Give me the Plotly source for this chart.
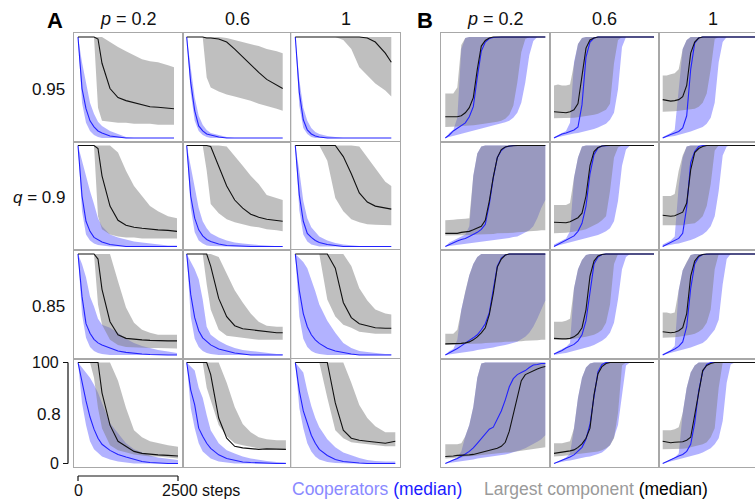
import plotly.graph_objects as go

FONT = "Liberation Sans, Arial, Helvetica, sans-serif"
W, H = 755, 500

# ---------------- data ----------------
XA = [0, 100, 200, 300, 400, 500, 600, 800, 1000, 1200, 1400, 1600, 1800, 2000, 2250, 2500]
XB = [0, 100, 200, 300, 400, 500, 600, 700, 800, 900, 1000, 1100, 1200,
      1300, 1400, 1500, 1600, 1700, 1800, 1900, 2000, 2100, 2200, 2300, 2400, 2500]

Q_LABELS = ["0.95", "<i>q</i> = 0.9", "0.85", "0.8"]
P_LABELS = ["<i>p</i> = 0.2", "0.6", "1"]

# Panel A (BL/BU = cooperator band, BM = cooperator median, GL/GU = largest component band, GM = its median)
A_Q95_P02_BL = [100, 35, 15, 7, 3, 1, 0, 0, 0, 0, 0, 0, 0, 0, 0, 0]
A_Q95_P02_BM = [100, 49, 29, 17, 11, 7, 5, 2, 1, 0, 0, 0, 0, 0, 0, 0]
A_Q95_P02_BU = [100, 75, 55, 35, 24, 16, 12, 7, 4, 1, 0, 0, 0, 0, 0, 0]
A_Q95_P02_GL = [100, 100, 100, 100, 100, 30, 17, 16, 15, 15, 14, 14, 14, 13, 13, 13]
A_Q95_P02_GM = [100, 100, 100, 100, 100, 98, 74, 49, 40, 37, 35, 33, 31, 30.5, 30, 29]
A_Q95_P02_GU = [100, 100, 100, 100, 100, 100, 100, 95, 90, 86, 82, 78, 76, 75, 72, 70]

A_Q95_P06_BL = [100, 45, 17, 7, 3, 1, 0, 0, 0, 0, 0, 0, 0, 0, 0, 0]
A_Q95_P06_BM = [100, 55, 27, 12, 7, 4, 3, 1, 0, 0, 0, 0, 0, 0, 0, 0]
A_Q95_P06_BU = [100, 70, 40, 22, 13, 8, 5, 3, 1, 0, 0, 0, 0, 0, 0, 0]
A_Q95_P06_GL = [100, 100, 100, 100, 100, 60, 50, 46, 43, 41, 39, 37, 34, 32, 29, 27]
A_Q95_P06_GM = [100, 100, 100, 100, 100, 99, 99, 98, 95, 88, 80, 73, 65, 58, 52, 49]
A_Q95_P06_GU = [100, 100, 100, 100, 100, 100, 100, 100, 99, 97, 95, 93, 91, 88, 86, 84]

A_Q95_P1_BL = [100, 32, 10, 4, 1, 0, 0, 0, 0, 0, 0, 0, 0, 0, 0, 0]
A_Q95_P1_BM = [100, 45, 18, 8, 4, 2, 1, 0, 0, 0, 0, 0, 0, 0, 0, 0]
A_Q95_P1_BU = [100, 58, 30, 17, 10, 6, 4, 2, 1, 0, 0, 0, 0, 0, 0, 0]
A_Q95_P1_GL = [100, 100, 100, 100, 100, 100, 100, 100, 100, 97, 88, 70, 62, 54, 47, 41]
A_Q95_P1_GM = [100, 100, 100, 100, 100, 100, 100, 100, 100, 100, 100, 100, 99, 95, 84, 75]
A_Q95_P1_GU = [100, 100, 100, 100, 100, 100, 100, 100, 100, 100, 100, 100, 100, 100, 100, 100]

A_Q9_P02_BL = [100, 35, 12, 6, 3, 1.5, 1, 0, 0, 0, 0, 0, 0, 0, 0, 0]
A_Q9_P02_BM = [100, 50, 25, 15, 9, 6.5, 4.5, 2, 1, 0, 0, 0, 0, 0, 0, 0]
A_Q9_P02_BU = [100, 85, 68, 55, 42, 28, 20, 12, 9, 7, 5, 4, 3, 2, 1, 1]
A_Q9_P02_GL = [100, 100, 100, 100, 100, 30, 17, 12, 10, 9, 9, 8, 8, 8, 8, 8]
A_Q9_P02_GM = [100, 100, 100, 100, 100, 97, 70, 40, 26, 21, 19, 18, 17, 16.5, 16, 15]
A_Q9_P02_GU = [100, 100, 100, 100, 100, 100, 100, 100, 93, 75, 60, 50, 40, 35, 30, 28]

A_Q9_P06_BL = [100, 38, 14, 6, 3, 1, 0.5, 0, 0, 0, 0, 0, 0, 0, 0, 0]
A_Q9_P06_BM = [100, 50, 28, 16.5, 10.5, 7, 5, 2.5, 1, 0.5, 0, 0, 0, 0, 0, 0]
A_Q9_P06_BU = [100, 80, 60, 38, 25, 18, 13, 9, 6, 4, 3, 2, 1.5, 1, 0.5, 0]
A_Q9_P06_GL = [100, 100, 100, 100, 100, 75, 42, 33, 27, 24, 22, 20, 19, 17, 16, 15]
A_Q9_P06_GM = [100, 100, 100, 100, 100, 100, 99, 80, 60, 46, 38, 32, 29, 27, 26, 25]
A_Q9_P06_GU = [100, 100, 100, 100, 100, 100, 100, 100, 99, 90, 80, 70, 62, 51, 48, 46]

A_Q9_P1_BL = [100, 36, 12, 5, 2, 1, 0, 0, 0, 0, 0, 0, 0, 0, 0, 0]
A_Q9_P1_BM = [100, 51, 25, 13, 9, 6, 4, 2, 1, 0, 0, 0, 0, 0, 0, 0]
A_Q9_P1_BU = [100, 75, 45, 28, 19, 14, 10, 6, 3.5, 2, 1, 0.5, 0, 0, 0, 0]
A_Q9_P1_GL = [100, 100, 100, 100, 100, 100, 100, 85, 48, 35, 27, 24, 22, 21.5, 21, 21]
A_Q9_P1_GM = [100, 100, 100, 100, 100, 100, 100, 100, 100, 89, 72, 53, 44, 40, 38, 37]
A_Q9_P1_GU = [100, 100, 100, 100, 100, 100, 100, 100, 100, 100, 100, 99, 88, 77, 64, 60]

A_Q85_P02_BL = [100, 40, 17, 8, 4, 2, 1, 0, 0, 0, 0, 0, 0, 0, 0, 0]
A_Q85_P02_BM = [100, 58, 31, 21.5, 15.5, 12, 10, 6.6, 4, 2.6, 1.6, 1, 0.5, 0, 0, 0]
A_Q85_P02_BU = [100, 90, 77, 58, 48, 36, 30, 27, 22, 16, 12, 9, 7, 5, 3.5, 2]
A_Q85_P02_GL = [100, 100, 100, 100, 100, 50, 30, 15, 10, 8, 7.5, 7, 7, 7, 6.5, 6.5]
A_Q85_P02_GM = [100, 100, 100, 100, 100, 95, 65, 33, 20, 16.5, 15.5, 15, 14.5, 14, 14, 14]
A_Q85_P02_GU = [100, 100, 100, 100, 100, 100, 100, 100, 73, 47, 32, 25, 22, 20, 20, 20]

A_Q85_P06_BL = [100, 38, 16, 8, 4, 2, 1, 0, 0, 0, 0, 0, 0, 0, 0, 0]
A_Q85_P06_BM = [100, 60, 37, 24, 17, 13, 10, 6, 4, 2, 1, 0, 0, 0, 0, 0]
A_Q85_P06_BU = [100, 92, 85, 75, 55, 28, 20, 14, 10, 7, 5, 4, 3, 2, 1, 1]
A_Q85_P06_GL = [100, 100, 100, 100, 100, 70, 45, 25, 19, 18, 17, 16, 15, 15, 15, 15]
A_Q85_P06_GM = [100, 100, 100, 100, 100, 100, 88, 56, 38, 29, 26, 25, 24, 23, 22, 22]
A_Q85_P06_GU = [100, 100, 100, 100, 100, 100, 100, 97, 80, 64, 52, 41, 33, 29, 28, 28]

A_Q85_P1_BL = [100, 38, 16, 8, 4, 2, 1, 0, 0, 0, 0, 0, 0, 0, 0, 0]
A_Q85_P1_BM = [100, 64, 41, 28, 20, 15, 11.5, 6.6, 4, 2.3, 1, 0, 0, 0, 0, 0]
A_Q85_P1_BU = [100, 96, 92, 86, 75, 63, 50, 34, 22, 12, 7, 4, 3, 2, 1, 1]
A_Q85_P1_GL = [100, 100, 100, 100, 100, 100, 100, 55, 38, 30, 27, 23, 22, 21, 21, 21]
A_Q85_P1_GM = [100, 100, 100, 100, 100, 100, 100, 100, 86, 52, 37, 31, 29, 27, 26.5, 26.5]
A_Q85_P1_GU = [100, 100, 100, 100, 100, 100, 100, 100, 100, 100, 88, 66, 54, 45, 41, 40]

A_Q8_P02_BL = [100, 60, 38, 22, 14, 10, 7, 4, 2, 1, 0, 0, 0, 0, 0, 0]
A_Q8_P02_BM = [100, 80, 62, 46, 34, 25, 19, 13, 9, 6.5, 4, 2, 1, 0.5, 0, 0]
A_Q8_P02_BU = [100, 95, 90, 85, 78, 70, 60, 40, 30, 20, 14, 11, 8, 6, 5, 3.5]
A_Q8_P02_GL = [100, 100, 100, 100, 85, 55, 35, 18, 13, 11, 9, 8, 7, 7, 6, 5]
A_Q8_P02_GM = [100, 100, 100, 100, 100, 100, 70, 38, 22, 17, 12, 10, 9, 8.5, 8, 7.5]
A_Q8_P02_GU = [100, 100, 100, 100, 100, 100, 100, 100, 82, 55, 33, 26, 22, 20, 18, 16.7]

A_Q8_P06_BL = [100, 55, 35, 20, 12, 8, 5, 2, 1, 0, 0, 0, 0, 0, 0, 0]
A_Q8_P06_BM = [100, 73, 58, 35, 27, 20, 15, 8.6, 5, 3, 1.5, 1, 0.5, 0, 0, 0]
A_Q8_P06_BU = [100, 96, 92, 75, 65, 48, 33, 20, 13, 10, 7, 5, 3.5, 2.5, 1.5, 1]
A_Q8_P06_GL = [100, 100, 100, 100, 100, 75, 63, 38, 27, 20, 18, 16.5, 15, 14.5, 14, 13.5]
A_Q8_P06_GM = [100, 100, 100, 100, 100, 100, 88, 45, 25, 17, 15.5, 15, 14, 14.5, 14.5, 14]
A_Q8_P06_GU = [100, 100, 100, 100, 100, 100, 100, 100, 80, 56, 39, 31, 26, 24, 23, 23]

A_Q8_P1_BL = [100, 55, 35, 20, 12, 7, 4, 1.5, 0.5, 0, 0, 0, 0, 0, 0, 0]
A_Q8_P1_BM = [100, 72, 52, 40, 28, 20, 14, 8, 4, 2, 1, 0.5, 0, 0, 0, 0]
A_Q8_P1_BU = [100, 95, 90, 72, 57, 45, 36, 24, 16, 11, 8, 5.5, 3.5, 2.5, 2, 2]
A_Q8_P1_GL = [100, 100, 100, 100, 100, 100, 100, 65, 33, 25, 21, 20, 19, 18, 17, 17]
A_Q8_P1_GM = [100, 100, 100, 100, 100, 100, 100, 100, 60, 33, 25, 23, 22, 21, 20, 22]
A_Q8_P1_GU = [100, 100, 100, 100, 100, 100, 100, 100, 100, 100, 80, 58, 45, 37, 31, 31]

# last time step reached in each A panel (rows q, cols p)
A_END_Q95 = [2400, 2400, 2400]
A_END_Q9 = [2475, 2400, 2400]
A_END_Q85 = [2475, 2400, 2400]
A_END_Q8 = [2500, 2480, 2500]

# Panel B
B_Q95_P02_BL = [0, 1, 2, 3, 4, 5, 6, 7, 8, 9, 10, 11, 12, 13, 14, 15.5, 17, 20, 25, 35, 55, 82, 96, 100, 100, 100]
B_Q95_P02_BM = [0, 3, 7, 9.5, 12, 15, 21, 31, 60, 86, 95, 98.5, 99.5, 100, 100, 100, 100, 100, 100, 100, 100, 100, 100, 100, 100, 100]
B_Q95_P02_BU = [0, 5, 8, 20, 88, 99, 100, 100, 100, 100, 100, 100, 100, 100, 100, 100, 100, 100, 100, 100, 100, 100, 100, 100, 100, 100]
B_Q95_P02_GL = [11, 11, 11.5, 11.5, 12, 12, 12.5, 12.5, 13, 13.5, 14, 14.5, 15, 16, 17, 19, 23, 32, 55, 85, 98, 100, 100, 100, 100, 100]
B_Q95_P02_GM = [21, 21, 20.5, 21, 22, 25, 30, 40, 68, 91, 96.5, 99, 100, 100, 100, 100, 100, 100, 100, 100, 100, 100, 100, 100, 100, 100]
B_Q95_P02_GU = [44, 44, 44, 50, 92, 99, 100, 100, 100, 100, 100, 100, 100, 100, 100, 100, 100, 100, 100, 100, 100, 100, 100, 100, 100, 100]

B_Q95_P06_BL = [0, 1, 2, 3, 4, 4.5, 5, 6, 6.5, 8, 9, 10.5, 12, 14, 18, 25, 48, 90, 100, 100, 100, 100, 100, 100, 100, 100]
B_Q95_P06_BM = [0, 2, 4, 5, 6.5, 8, 11, 33, 80, 95, 99, 100, 100, 100, 100, 100, 100, 100, 100, 100, 100, 100, 100, 100, 100, 100]
B_Q95_P06_BU = [1, 3, 5, 7, 15, 75, 93, 99, 100, 100, 100, 100, 100, 100, 100, 100, 100, 100, 100, 100, 100, 100, 100, 100, 100, 100]
B_Q95_P06_GL = [19.5, 19.5, 19.5, 19.5, 19.5, 20, 20.5, 21, 21.5, 22, 23, 24, 26, 28, 34, 74, 97, 100, 100, 100, 100, 100, 100, 100, 100, 100]
B_Q95_P06_GM = [26, 25.5, 25, 25, 26, 28, 34, 63, 89, 97, 99, 100, 100, 100, 100, 100, 100, 100, 100, 100, 100, 100, 100, 100, 100, 100]
B_Q95_P06_GU = [52, 53, 52, 52, 53, 75, 93, 99, 100, 100, 100, 100, 100, 100, 100, 100, 100, 100, 100, 100, 100, 100, 100, 100, 100, 100]

B_Q95_P1_BL = [0, 1, 1.5, 2, 3, 4, 5, 6.5, 8, 9.5, 11, 14, 20, 35, 75, 95, 100, 100, 100, 100, 100, 100, 100, 100, 100, 100]
B_Q95_P1_BM = [0, 2, 3.5, 5, 6.5, 10, 22, 68, 94, 99, 100, 100, 100, 100, 100, 100, 100, 100, 100, 100, 100, 100, 100, 100, 100, 100]
B_Q95_P1_BU = [1, 3, 5, 8, 50, 88, 97, 100, 100, 100, 100, 100, 100, 100, 100, 100, 100, 100, 100, 100, 100, 100, 100, 100, 100, 100]
B_Q95_P1_GL = [26, 26, 26, 26.5, 27, 27.5, 28, 28.5, 29, 31, 35, 44, 68, 98, 100, 100, 100, 100, 100, 100, 100, 100, 100, 100, 100, 100]
B_Q95_P1_GM = [38, 37, 36.5, 37, 38, 41, 52, 84, 95, 99, 100, 100, 100, 100, 100, 100, 100, 100, 100, 100, 100, 100, 100, 100, 100, 100]
B_Q95_P1_GU = [62, 62, 63, 64, 68, 88, 97, 100, 100, 100, 100, 100, 100, 100, 100, 100, 100, 100, 100, 100, 100, 100, 100, 100, 100, 100]

B_Q9_P02_BL = [0, 0.5, 1, 1.5, 2, 3, 3.5, 4, 4.5, 5, 5, 5.5, 6, 6.5, 7, 8, 8.5, 9.5, 10, 12, 14, 16, 20, 28, 38, 46]
B_Q9_P02_BM = [0, 2, 4, 5.5, 7, 8, 10, 12, 14, 17, 22, 42, 68, 88, 95, 98.5, 99.5, 100, 100, 100, 100, 100, 100, 100, 100, 100]
B_Q9_P02_BU = [0, 4, 6, 8, 10, 12, 20, 70, 92, 99, 100, 100, 100, 100, 100, 100, 100, 100, 100, 100, 100, 100, 100, 100, 100, 100]
B_Q9_P02_GL = [11, 11, 11, 11, 11, 11, 11.5, 11.5, 12, 12, 12, 12.5, 12.5, 13, 13, 13, 13.5, 13.5, 14, 14, 14.5, 15, 15, 15.5, 16, 16]
B_Q9_P02_GM = [13, 13, 13, 13, 14, 14.5, 15, 16.5, 18, 20, 26, 45, 69, 88, 96, 98.5, 99.5, 100, 100, 100, 100, 100, 100, 100, 100, 100]
B_Q9_P02_GU = [26, 26, 26.5, 27, 27, 27.5, 28, 70, 92, 99, 100, 100, 100, 100, 100, 100, 100, 100, 100, 100, 100, 100, 100, 100, 100, 100]

B_Q9_P06_BL = [0, 1, 2, 3, 4, 5, 6, 7, 8, 9, 10, 11.5, 13, 15, 18, 25, 45, 80, 96, 100, 100, 100, 100, 100, 100, 100]
B_Q9_P06_BM = [0, 2, 4, 6.5, 8.5, 10.5, 15, 23, 40, 72, 91, 97.5, 99.5, 100, 100, 100, 100, 100, 100, 100, 100, 100, 100, 100, 100, 100]
B_Q9_P06_BU = [2, 4, 6, 8, 15, 68, 88, 99, 100, 100, 100, 100, 100, 100, 100, 100, 100, 100, 100, 100, 100, 100, 100, 100, 100, 100]
B_Q9_P06_GL = [13, 13, 13, 13.5, 14, 14.5, 15, 16, 17, 19, 21, 23, 26, 30, 55, 88, 98, 100, 100, 100, 100, 100, 100, 100, 100, 100]
B_Q9_P06_GM = [24, 24, 23.5, 23.5, 24.5, 26.5, 28.5, 33, 50, 80, 94, 98, 99.5, 100, 100, 100, 100, 100, 100, 100, 100, 100, 100, 100, 100, 100]
B_Q9_P06_GU = [41, 41, 41, 41, 43, 68, 88, 99, 100, 100, 100, 100, 100, 100, 100, 100, 100, 100, 100, 100, 100, 100, 100, 100, 100, 100]

B_Q9_P1_BL = [0, 1, 2, 2.5, 3, 4, 5, 6.5, 8, 10, 12, 15, 20, 30, 55, 90, 99, 100, 100, 100, 100, 100, 100, 100, 100, 100]
B_Q9_P1_BM = [0, 2, 3.5, 5.5, 8, 13, 39, 83, 94, 99, 100, 100, 100, 100, 100, 100, 100, 100, 100, 100, 100, 100, 100, 100, 100, 100]
B_Q9_P1_BU = [2, 4, 6, 10, 60, 88, 99, 100, 100, 100, 100, 100, 100, 100, 100, 100, 100, 100, 100, 100, 100, 100, 100, 100, 100, 100]
B_Q9_P1_GL = [21, 21, 21, 21, 21, 21, 22, 22.5, 23, 26, 30, 40, 62, 95, 100, 100, 100, 100, 100, 100, 100, 100, 100, 100, 100, 100]
B_Q9_P1_GM = [31, 30.5, 30, 30.5, 32, 34, 43, 76, 93, 97, 99, 100, 100, 100, 100, 100, 100, 100, 100, 100, 100, 100, 100, 100, 100, 100]
B_Q9_P1_GU = [50, 50, 50, 52, 75, 90, 99, 100, 100, 100, 100, 100, 100, 100, 100, 100, 100, 100, 100, 100, 100, 100, 100, 100, 100, 100]

B_Q85_P02_BL = [0, 0.5, 1, 2, 2.5, 3, 3.5, 4, 5, 5.5, 6, 7, 7.5, 8.5, 9, 10, 11, 12, 13, 15.5, 18, 22, 28, 36, 45, 54]
B_Q85_P02_BM = [0, 2, 4, 6.5, 9, 12, 14.5, 17, 20, 25, 31, 42, 63, 88, 96, 99, 100, 100, 100, 100, 100, 100, 100, 100, 100, 100]
B_Q85_P02_BU = [0, 4, 6, 15, 45, 63, 79, 90, 97, 100, 100, 100, 100, 100, 100, 100, 100, 100, 100, 100, 100, 100, 100, 100, 100, 100]
B_Q85_P02_GL = [10, 10, 10.5, 10.5, 10.5, 11, 11, 11, 11.5, 11.5, 12, 12, 12, 12.5, 12.5, 13, 13, 13, 13.5, 13.5, 14, 14, 14.5, 14.5, 15, 15]
B_Q85_P02_GM = [11, 11, 11, 11, 11.5, 12, 13, 15, 18, 22, 27, 40, 61, 87, 95, 99, 100, 100, 100, 100, 100, 100, 100, 100, 100, 100]
B_Q85_P02_GU = [21, 21, 21, 25, 45, 63, 79, 90, 97, 100, 100, 100, 100, 100, 100, 100, 100, 100, 100, 100, 100, 100, 100, 100, 100, 100]

B_Q85_P06_BL = [0, 1, 1.5, 2, 3, 4, 5, 6, 7, 8.5, 10, 12, 14, 17, 22, 32, 55, 85, 97, 100, 100, 100, 100, 100, 100, 100]
B_Q85_P06_BM = [1, 2.5, 4.5, 7, 9, 10.5, 14, 20, 34, 60, 90, 97, 99.5, 100, 100, 100, 100, 100, 100, 100, 100, 100, 100, 100, 100, 100]
B_Q85_P06_BU = [1, 4, 6, 8, 12, 66, 85, 94, 99, 100, 100, 100, 100, 100, 100, 100, 100, 100, 100, 100, 100, 100, 100, 100, 100, 100]
B_Q85_P06_GL = [15, 15, 15, 15.5, 15.5, 16, 16.5, 17, 18, 19, 20, 22, 25, 32, 50, 90, 100, 100, 100, 100, 100, 100, 100, 100, 100, 100]
B_Q85_P06_GM = [16.5, 16, 16, 16, 16.5, 18, 21, 27, 45, 78, 93, 98, 99.5, 100, 100, 100, 100, 100, 100, 100, 100, 100, 100, 100, 100, 100]
B_Q85_P06_GU = [33, 33, 33, 34, 36, 66, 85, 94, 99, 100, 100, 100, 100, 100, 100, 100, 100, 100, 100, 100, 100, 100, 100, 100, 100, 100]

B_Q85_P1_BL = [0, 1, 2, 3, 4, 5, 6, 7.5, 9, 10.5, 12, 15, 20, 25, 35, 70, 95, 100, 100, 100, 100, 100, 100, 100, 100, 100]
B_Q85_P1_BM = [0, 2, 3.5, 6, 8.5, 13, 28, 66, 90, 97, 99.5, 100, 100, 100, 100, 100, 100, 100, 100, 100, 100, 100, 100, 100, 100, 100]
B_Q85_P1_BU = [1, 3, 5, 9, 64, 84, 92, 99, 100, 100, 100, 100, 100, 100, 100, 100, 100, 100, 100, 100, 100, 100, 100, 100, 100, 100]
B_Q85_P1_GL = [17, 17, 17, 17.5, 18, 18.5, 19, 20, 21, 23, 26, 32, 45, 85, 100, 100, 100, 100, 100, 100, 100, 100, 100, 100, 100, 100]
B_Q85_P1_GM = [23, 22.5, 22, 22.5, 24, 27, 41, 78, 93, 98, 99.5, 100, 100, 100, 100, 100, 100, 100, 100, 100, 100, 100, 100, 100, 100, 100]
B_Q85_P1_GU = [42, 42, 41, 42, 64, 84, 92, 99, 100, 100, 100, 100, 100, 100, 100, 100, 100, 100, 100, 100, 100, 100, 100, 100, 100, 100]

B_Q8_P02_BL = [0, 0.5, 1, 2, 2.5, 3, 3.5, 4, 5, 5.5, 6, 6.5, 7, 8, 8.5, 9, 10, 11, 12, 13.5, 15, 17, 19, 21.5, 24, 28]
B_Q8_P02_BM = [0, 2, 3.5, 5, 7, 9.5, 12, 15.5, 20, 25, 30, 34, 36, 44, 52, 63, 76, 84, 88, 90, 92, 95, 97.5, 98, 99, 99]
B_Q8_P02_BU = [0, 2, 4, 6, 12, 27, 38, 56, 85, 99, 100, 100, 100, 100, 100, 100, 100, 100, 100, 100, 100, 100, 100, 100, 100, 100]
B_Q8_P02_GL = [5, 5, 5.5, 6, 6, 7, 7, 7.5, 8, 8.5, 9, 9, 9.5, 10, 10.5, 11, 11, 11.5, 12, 12.5, 13, 13.5, 14, 14.5, 15, 16]
B_Q8_P02_GM = [7, 7, 7.5, 8, 8, 8.5, 8.5, 9, 10, 11, 11.5, 12.5, 13.5, 15, 17, 21, 32, 48, 65, 82, 88, 90, 92, 93.5, 95, 96]
B_Q8_P02_GU = [19, 19, 19, 19, 20, 27, 38, 56, 85, 99, 100, 100, 100, 100, 100, 100, 100, 100, 100, 100, 100, 100, 100, 100, 100, 100]

B_Q8_P06_BL = [0, 1, 1.5, 2.5, 3, 4, 5, 5.5, 6.5, 7, 8, 9.5, 11, 14, 18, 26, 38, 70, 97, 100, 100, 100, 100, 100, 100, 100]
B_Q8_P06_BM = [0, 1.5, 3, 4.5, 6.5, 8.5, 12, 16, 24, 39, 66, 91, 98, 100, 100, 100, 100, 100, 100, 100, 100, 100, 100, 100, 100, 100]
B_Q8_P06_BU = [0, 2, 3.5, 6, 10, 35, 65, 85, 95, 99, 100, 100, 100, 100, 100, 100, 100, 100, 100, 100, 100, 100, 100, 100, 100, 100]
B_Q8_P06_GL = [7, 7, 7.5, 8, 8.5, 9, 9.5, 10, 10.5, 11, 11, 12, 13, 15, 18, 25, 50, 97, 100, 100, 100, 100, 100, 100, 100, 100]
B_Q8_P06_GM = [10, 10.5, 11, 11.5, 12.5, 13.5, 16, 19.5, 25, 35, 68, 89, 96, 99, 100, 100, 100, 100, 100, 100, 100, 100, 100, 100, 100, 100]
B_Q8_P06_GU = [20, 20, 20, 21, 22, 35, 65, 85, 95, 99, 100, 100, 100, 100, 100, 100, 100, 100, 100, 100, 100, 100, 100, 100, 100, 100]

B_Q8_P1_BL = [0, 1, 2, 3, 4, 5, 6, 7, 8, 9.5, 11, 13, 15, 19, 25, 42, 80, 98, 100, 100, 100, 100, 100, 100, 100, 100]
B_Q8_P1_BM = [0, 2, 3.5, 5.5, 7.5, 9, 12, 19, 40, 72, 91, 98, 100, 100, 100, 100, 100, 100, 100, 100, 100, 100, 100, 100, 100, 100]
B_Q8_P1_BU = [0, 2, 4, 6, 10, 50, 75, 90, 97, 100, 100, 100, 100, 100, 100, 100, 100, 100, 100, 100, 100, 100, 100, 100, 100, 100]
B_Q8_P1_GL = [14, 14, 14, 14, 14.5, 14.5, 15, 16, 17, 18, 19, 21, 26, 35, 75, 100, 100, 100, 100, 100, 100, 100, 100, 100, 100, 100]
B_Q8_P1_GM = [22, 21, 20.5, 21, 21, 21.5, 23, 26, 48, 72, 92, 97, 99, 100, 100, 100, 100, 100, 100, 100, 100, 100, 100, 100, 100, 100]
B_Q8_P1_GU = [33, 33, 33, 34, 36, 50, 75, 90, 97, 100, 100, 100, 100, 100, 100, 100, 100, 100, 100, 100, 100, 100, 100, 100, 100, 100]

# ---------------- tables built from the arrays ----------------
PANELS_A = [
    [(A_Q95_P02_BL, A_Q95_P02_BM, A_Q95_P02_BU, A_Q95_P02_GL, A_Q95_P02_GM, A_Q95_P02_GU),
     (A_Q95_P06_BL, A_Q95_P06_BM, A_Q95_P06_BU, A_Q95_P06_GL, A_Q95_P06_GM, A_Q95_P06_GU),
     (A_Q95_P1_BL, A_Q95_P1_BM, A_Q95_P1_BU, A_Q95_P1_GL, A_Q95_P1_GM, A_Q95_P1_GU)],
    [(A_Q9_P02_BL, A_Q9_P02_BM, A_Q9_P02_BU, A_Q9_P02_GL, A_Q9_P02_GM, A_Q9_P02_GU),
     (A_Q9_P06_BL, A_Q9_P06_BM, A_Q9_P06_BU, A_Q9_P06_GL, A_Q9_P06_GM, A_Q9_P06_GU),
     (A_Q9_P1_BL, A_Q9_P1_BM, A_Q9_P1_BU, A_Q9_P1_GL, A_Q9_P1_GM, A_Q9_P1_GU)],
    [(A_Q85_P02_BL, A_Q85_P02_BM, A_Q85_P02_BU, A_Q85_P02_GL, A_Q85_P02_GM, A_Q85_P02_GU),
     (A_Q85_P06_BL, A_Q85_P06_BM, A_Q85_P06_BU, A_Q85_P06_GL, A_Q85_P06_GM, A_Q85_P06_GU),
     (A_Q85_P1_BL, A_Q85_P1_BM, A_Q85_P1_BU, A_Q85_P1_GL, A_Q85_P1_GM, A_Q85_P1_GU)],
    [(A_Q8_P02_BL, A_Q8_P02_BM, A_Q8_P02_BU, A_Q8_P02_GL, A_Q8_P02_GM, A_Q8_P02_GU),
     (A_Q8_P06_BL, A_Q8_P06_BM, A_Q8_P06_BU, A_Q8_P06_GL, A_Q8_P06_GM, A_Q8_P06_GU),
     (A_Q8_P1_BL, A_Q8_P1_BM, A_Q8_P1_BU, A_Q8_P1_GL, A_Q8_P1_GM, A_Q8_P1_GU)],
]
A_END = [A_END_Q95, A_END_Q9, A_END_Q85, A_END_Q8]
PANELS_B = [
    [(B_Q95_P02_BL, B_Q95_P02_BM, B_Q95_P02_BU, B_Q95_P02_GL, B_Q95_P02_GM, B_Q95_P02_GU),
     (B_Q95_P06_BL, B_Q95_P06_BM, B_Q95_P06_BU, B_Q95_P06_GL, B_Q95_P06_GM, B_Q95_P06_GU),
     (B_Q95_P1_BL, B_Q95_P1_BM, B_Q95_P1_BU, B_Q95_P1_GL, B_Q95_P1_GM, B_Q95_P1_GU)],
    [(B_Q9_P02_BL, B_Q9_P02_BM, B_Q9_P02_BU, B_Q9_P02_GL, B_Q9_P02_GM, B_Q9_P02_GU),
     (B_Q9_P06_BL, B_Q9_P06_BM, B_Q9_P06_BU, B_Q9_P06_GL, B_Q9_P06_GM, B_Q9_P06_GU),
     (B_Q9_P1_BL, B_Q9_P1_BM, B_Q9_P1_BU, B_Q9_P1_GL, B_Q9_P1_GM, B_Q9_P1_GU)],
    [(B_Q85_P02_BL, B_Q85_P02_BM, B_Q85_P02_BU, B_Q85_P02_GL, B_Q85_P02_GM, B_Q85_P02_GU),
     (B_Q85_P06_BL, B_Q85_P06_BM, B_Q85_P06_BU, B_Q85_P06_GL, B_Q85_P06_GM, B_Q85_P06_GU),
     (B_Q85_P1_BL, B_Q85_P1_BM, B_Q85_P1_BU, B_Q85_P1_GL, B_Q85_P1_GM, B_Q85_P1_GU)],
    [(B_Q8_P02_BL, B_Q8_P02_BM, B_Q8_P02_BU, B_Q8_P02_GL, B_Q8_P02_GM, B_Q8_P02_GU),
     (B_Q8_P06_BL, B_Q8_P06_BM, B_Q8_P06_BU, B_Q8_P06_GL, B_Q8_P06_GM, B_Q8_P06_GU),
     (B_Q8_P1_BL, B_Q8_P1_BM, B_Q8_P1_BU, B_Q8_P1_GL, B_Q8_P1_GM, B_Q8_P1_GU)],
]

# ---------------- geometry & style ----------------
COL_LEFT_A = [74.0, 182.7, 291.3]
COL_LEFT_B = [441.3, 550.0, 658.7]
ROW_TOP = [33.0, 141.5, 250.0, 358.5]
CELL_W, CELL_H = 108.7, 108.5
PX_PER_STEP = CELL_W / 2717.5
Y_RANGE = [-3.5 / 1.01, 100 + 4 / 1.01]

BLUE_FILL = "rgba(0,0,255,0.30)"
GRAY_FILL = "rgba(128,128,128,0.50)"
BLUE_LINE = "#2222ff"
BLACK_LINE = "#111111"
BORDER = "#a8a8a8"

fig = go.Figure()
layout_axes = {}


def ax_names(idx):
    s = "" if idx == 1 else str(idx)
    return "x" + s, "y" + s, "xaxis" + s, "yaxis" + s


def add_cell(idx, left, top, xs, series, clip_right=False):
    bl, bm, bu, gl, gm, gu = series
    xr, yr, xk, yk = ax_names(idx)
    right = min(left + CELL_W, W)
    common = dict(xaxis=xr, yaxis=yr, mode="lines", hoverinfo="skip", showlegend=False)
    fig.add_trace(go.Scatter(x=xs, y=bl, line=dict(width=0), **common))
    fig.add_trace(go.Scatter(x=xs, y=bu, line=dict(width=0), fill="tonexty", fillcolor=BLUE_FILL, **common))
    fig.add_trace(go.Scatter(x=xs, y=gl, line=dict(width=0), **common))
    fig.add_trace(go.Scatter(x=xs, y=gu, line=dict(width=0), fill="tonexty", fillcolor=GRAY_FILL, **common))
    fig.add_trace(go.Scatter(x=xs, y=bm, line=dict(width=1.1, color=BLUE_LINE), **common))
    fig.add_trace(go.Scatter(x=xs, y=gm, line=dict(width=1.1, color=BLACK_LINE), **common))
    layout_axes[xk] = dict(domain=[left / W, right / W], range=[-100, -100 + (right - left) / PX_PER_STEP],
                           anchor=yr, showline=True, mirror=True, linecolor=BORDER, linewidth=1,
                           showgrid=False, zeroline=False, showticklabels=False, ticks="", fixedrange=True)
    layout_axes[yk] = dict(domain=[1 - (top + CELL_H) / H, 1 - top / H], range=Y_RANGE,
                           anchor=xr, showline=True, mirror=not clip_right, linecolor=BORDER, linewidth=1,
                           showgrid=False, zeroline=False, showticklabels=False, ticks="", fixedrange=True)


for r in range(4):
    for c in range(3):
        idx = 1 + r * 6 + c
        xs = XA[:-1] + [A_END[r][c]]
        add_cell(idx, COL_LEFT_A[c], ROW_TOP[r], xs, PANELS_A[r][c])
        idx = 1 + r * 6 + 3 + c
        add_cell(idx, COL_LEFT_B[c], ROW_TOP[r], XB, PANELS_B[r][c], clip_right=(c == 2))

ann = []


def txt(x, y, text, size=17, xanchor="center", yanchor="middle", color="#111", bold=False, **kw):
    d = dict(x=x, y=y, text=("<b>%s</b>" % text) if bold else text, showarrow=False,
             xanchor=xanchor, yanchor=yanchor, font=dict(family=FONT, size=size, color=color))
    d.setdefault("xref", "paper")
    d.setdefault("yref", "paper")
    d.update(kw)
    ann.append(d)


# panel letters
txt(55.5 / W, 1 - 20 / H, "A", size=22, bold=True, color="#000")
txt(425 / W, 1 - 20 / H, "B", size=22, bold=True, color="#000")
# column headers
for c in range(3):
    txt((COL_LEFT_A[c] + CELL_W / 2) / W, 1 - 19 / H, P_LABELS[c], size=18)
    txt((COL_LEFT_B[c] + CELL_W / 2) / W, 1 - 19 / H, P_LABELS[c], size=18)
# row labels
for r in range(4):
    xr = 63 if r == 3 else 67
    txt(xr / W, 1 - (ROW_TOP[r] + CELL_H / 2 + 2) / H, Q_LABELS[r], size=17, xanchor="right")

# scale bars on the bottom-left cell (axes x19/y19)
SB_X, SB_Y = "x19", "y19"
shapes = [
    dict(type="line", xref="paper", yref=SB_Y, x0=68 / W, x1=68 / W, y0=0, y1=100, line=dict(color="#111", width=1.2)),
    dict(type="line", xref="paper", yref=SB_Y, x0=63 / W, x1=68 / W, y0=0, y1=0, line=dict(color="#111", width=1.2)),
    dict(type="line", xref="paper", yref=SB_Y, x0=63 / W, x1=68 / W, y0=100, y1=100, line=dict(color="#111", width=1.2)),
    dict(type="line", xref=SB_X, yref="paper", x0=0, x1=2500, y0=1 - 476 / H, y1=1 - 476 / H, line=dict(color="#111", width=1.2)),
    dict(type="line", xref=SB_X, yref="paper", x0=0, x1=0, y0=1 - 476 / H, y1=1 - 481 / H, line=dict(color="#111", width=1.2)),
    dict(type="line", xref=SB_X, yref="paper", x0=2500, x1=2500, y0=1 - 476 / H, y1=1 - 481 / H, line=dict(color="#111", width=1.2)),
]
txt(61 / W, 100, "100", size=16, xanchor="right", yref=SB_Y)
txt(61 / W, 0, "0", size=16, xanchor="right", yref=SB_Y)
txt(0, 1 - 490 / H, "0", size=16, xref=SB_X)
txt(2500, 1 - 490 / H, "2500 steps", size=16, xanchor="left", xref=SB_X, xshift=-18)

# legend text
txt(290 / W, 1 - 489 / H,
    '<span style="color:#8a8aff">Cooperators</span> <span style="color:#1a1aff">(median)</span>',
    size=17.5, xanchor="left")
txt(482 / W, 1 - 489 / H,
    '<span style="color:#9a9a9a">Largest component</span> <span style="color:#000000">(median)</span>',
    size=17.5, xanchor="left")

fig.update_layout(width=W, height=H, margin=dict(l=0, r=0, t=0, b=0, pad=0),
                  paper_bgcolor="white", plot_bgcolor="white", showlegend=False,
                  annotations=ann, shapes=shapes, font=dict(family=FONT), **layout_axes)
fig.write_html("out.html")
